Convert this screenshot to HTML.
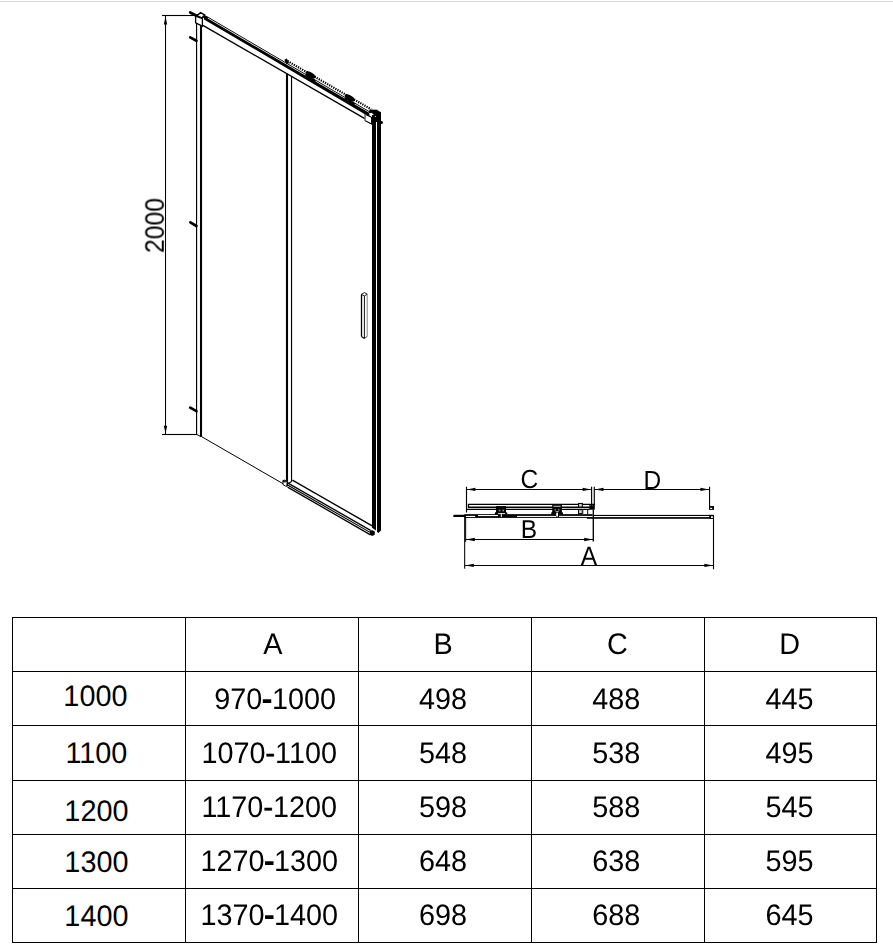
<!DOCTYPE html>
<html><head><meta charset="utf-8"><title>2000</title>
<style>
html,body{margin:0;padding:0;background:#fff;}
body{width:893px;height:948px;overflow:hidden;position:relative;}
svg{position:absolute;left:0;top:0;display:block;}
text{font-family:"Liberation Sans",sans-serif;fill:#000;text-rendering:geometricPrecision;}
.t{font-size:28.8px;}
</style></head><body>
<svg width="893" height="948" viewBox="0 0 893 948">
<g id="door">
<rect x="0" y="1" width="893" height="1" fill="#d9d9d9"/>
<rect x="162" y="14.95" width="34" height="1.1" fill="#000"/>
<rect x="164.98" y="16" width="1.06" height="418" fill="#000"/>
<rect x="162" y="433.95" width="35" height="1.1" fill="#000"/>
<polygon points="165.50,16.40 163.80,24.60 167.20,24.60" fill="#000" stroke="none" stroke-width="1" />
<polygon points="165.50,433.60 163.80,425.80 167.20,425.80" fill="#000" stroke="none" stroke-width="1" />
<line x1="190.20" y1="12.50" x2="196.40" y2="15.80" stroke="#000" stroke-width="2.7" stroke-linecap="round"/>
<line x1="190.20" y1="37.40" x2="196.40" y2="40.80" stroke="#000" stroke-width="2.7" stroke-linecap="round"/>
<line x1="190.40" y1="222.30" x2="196.40" y2="226.00" stroke="#000" stroke-width="2.7" stroke-linecap="round"/>
<line x1="190.20" y1="407.60" x2="196.40" y2="411.20" stroke="#000" stroke-width="2.7" stroke-linecap="round"/>
<rect x="196" y="22" width="1.15" height="412.8" fill="#000"/>
<rect x="199.97" y="25" width="2.08" height="411.8" fill="#000"/>
<line x1="196.70" y1="434.50" x2="201.00" y2="436.60" stroke="#000" stroke-width="1.0" />
<line x1="201.50" y1="436.60" x2="283.70" y2="484.10" stroke="#000" stroke-width="1.0" />
<line x1="202.50" y1="25.20" x2="364.90" y2="118.58" stroke="#000" stroke-width="1.4" />
<polygon points="204.00,16.23 369.50,113.08 369.50,116.88 204.00,19.43" fill="#000" stroke="none" stroke-width="1" />
<line x1="207.50" y1="16.99" x2="370.00" y2="112.08" stroke="#000" stroke-width="0.95" />
<line x1="287.50" y1="61.04" x2="371.00" y2="109.22" stroke="#000" stroke-width="2.2" stroke-dasharray="1.3 1.1"/>
<line x1="285.60" y1="59.14" x2="287.80" y2="63.61" stroke="#000" stroke-width="2.8" />
<ellipse cx="310.6" cy="74.91" rx="5.8" ry="2.5" transform="rotate(30 310.6 74.91)" fill="#000"/>
<line x1="305.60" y1="75.27" x2="315.60" y2="81.14" stroke="#000" stroke-width="1.6" />
<ellipse cx="349.8" cy="97.92" rx="5.8" ry="2.5" transform="rotate(30 349.8 97.92)" fill="#000"/>
<line x1="344.80" y1="98.28" x2="354.80" y2="104.15" stroke="#000" stroke-width="1.6" />
<line x1="203.20" y1="16.20" x2="207.60" y2="18.40" stroke="#000" stroke-width="3.0" />
<polygon points="196.60,15.60 200.70,12.60 204.60,14.90 201.90,17.90" fill="#fff" stroke="#000" stroke-width="1.5" />
<polygon points="195.60,16.10 202.40,18.60 202.40,26.10 195.60,22.80" fill="#fff" stroke="#000" stroke-width="1.3" />
<rect x="285.95" y="73.79" width="2.1" height="412.51" fill="#000"/>
<rect x="290.95" y="76.43" width="1.15" height="405.27" fill="#000"/>
<polygon points="372.00,115.00 376.00,115.00 376.00,530.60 372.00,527.70" fill="#000" stroke="none" stroke-width="1" />
<polygon points="377.00,110.10 381.00,112.20 381.00,530.60 378.30,532.90 377.00,531.50" fill="#000" stroke="none" stroke-width="1" />
<polygon points="369.60,109.50 377.50,109.80 377.50,122.00 372.00,122.00 372.00,114.00 368.80,112.40" fill="#000" stroke="none" stroke-width="1" />
<line x1="380.50" y1="122.60" x2="381.50" y2="122.60" stroke="#000" stroke-width="3.0" stroke-linecap="round"/>
<polygon points="365.10,114.20 371.60,117.30 371.60,124.00 365.10,120.70" fill="#fff" stroke="#000" stroke-width="1.1" />
<line x1="365.10" y1="114.20" x2="365.10" y2="120.60" stroke="#9a9a9a" stroke-width="1.2" />
<polygon points="368.90,113.90 371.30,112.80 373.90,114.40 371.60,115.60" fill="#fff" stroke="none" stroke-width="1" />
<rect x="374.8" y="115.9" width="1" height="0.9" fill="#fff"/>
<polygon points="361.40,294.40 364.40,292.60 367.20,294.20 364.40,296.00" fill="#fff" stroke="#000" stroke-width="0.9" />
<line x1="361.50" y1="294.40" x2="361.50" y2="336.50" stroke="#000" stroke-width="1.3" />
<line x1="364.40" y1="296.00" x2="364.40" y2="338.40" stroke="#111" stroke-width="1.0" />
<line x1="367.20" y1="294.20" x2="367.20" y2="336.50" stroke="#777" stroke-width="0.9" />
<line x1="361.40" y1="336.50" x2="364.40" y2="338.50" stroke="#000" stroke-width="1.1" />
<line x1="364.40" y1="338.50" x2="367.20" y2="336.50" stroke="#444" stroke-width="1.0" />
<line x1="292.40" y1="480.05" x2="372.20" y2="525.94" stroke="#000" stroke-width="1.35" />
<line x1="287.60" y1="482.87" x2="370.50" y2="530.41" stroke="#000" stroke-width="1.3" />
<line x1="287.60" y1="484.97" x2="370.50" y2="532.64" stroke="#000" stroke-width="1.1" />
<line x1="287.60" y1="487.07" x2="370.50" y2="534.86" stroke="#000" stroke-width="1.3" />
<polygon points="369.90,530.60 372.60,530.20 374.80,531.60 374.80,534.80 372.00,535.90 369.90,534.60" fill="#000" stroke="none" stroke-width="1" />
<polygon points="283.00,480.60 284.50,480.10 287.00,481.30 287.00,486.10 285.60,486.10 283.00,484.60" fill="#fff" stroke="#000" stroke-width="1.0" />
<line x1="291.60" y1="481.50" x2="288.20" y2="483.40" stroke="#000" stroke-width="1.2" />
<line x1="283.40" y1="481.00" x2="285.00" y2="481.60" stroke="#000" stroke-width="1.7" stroke-linecap="round"/>
</g>
<g id="plan">
<line x1="466.50" y1="489.45" x2="591.60" y2="489.45" stroke="#000" stroke-width="1.05" />
<polygon points="466.80,489.45 475.40,487.80 475.40,491.10" fill="#000" stroke="none" stroke-width="1" />
<polygon points="591.20,489.45 582.60,487.80 582.60,491.10" fill="#000" stroke="none" stroke-width="1" />
<line x1="466.50" y1="486.80" x2="466.50" y2="512.50" stroke="#000" stroke-width="1.15" />
<line x1="591.60" y1="486.80" x2="591.60" y2="505.00" stroke="#000" stroke-width="1.15" />
<line x1="594.30" y1="486.80" x2="594.30" y2="505.00" stroke="#000" stroke-width="1.15" />
<line x1="594.30" y1="489.45" x2="709.30" y2="489.45" stroke="#000" stroke-width="1.05" />
<polygon points="594.90,489.45 603.50,487.80 603.50,491.10" fill="#000" stroke="none" stroke-width="1" />
<polygon points="709.00,489.45 700.40,487.80 700.40,491.10" fill="#000" stroke="none" stroke-width="1" />
<rect x="709.00" y="486.80" width="1.10" height="22.20" fill="#000" />
<rect x="709.00" y="506.05" width="5.00" height="3.85" fill="#000" />
<rect x="710.10" y="507.80" width="2.10" height="1.20" fill="#fff" />
<line x1="466.00" y1="539.50" x2="593.30" y2="539.50" stroke="#000" stroke-width="1.05" />
<polygon points="466.20,539.50 474.80,537.85 474.80,541.15" fill="#000" stroke="none" stroke-width="1" />
<polygon points="592.80,539.50 584.20,537.85 584.20,541.15" fill="#000" stroke="none" stroke-width="1" />
<line x1="593.30" y1="509.50" x2="593.30" y2="541.50" stroke="#000" stroke-width="1.35" />
<line x1="464.80" y1="565.45" x2="713.60" y2="565.45" stroke="#000" stroke-width="1.05" />
<polygon points="465.20,565.45 473.80,563.80 473.80,567.10" fill="#000" stroke="none" stroke-width="1" />
<polygon points="713.00,565.45 704.40,563.80 704.40,567.10" fill="#000" stroke="none" stroke-width="1" />
<rect x="464.15" y="517.00" width="1.05" height="51.70" fill="#000" />
<rect x="465.15" y="517.00" width="1.00" height="24.90" fill="#000" />
<rect x="712.95" y="518.00" width="1.10" height="51.20" fill="#000" />
<rect x="592.50" y="514.90" width="121.50" height="1.10" fill="#000" />
<rect x="586.90" y="517.10" width="127.10" height="1.70" fill="#000" />
<rect x="709.15" y="514.90" width="4.85" height="3.90" fill="#000" />
<rect x="711.00" y="516.20" width="1.90" height="1.70" fill="#fff" />
<line x1="467.90" y1="504.35" x2="594.50" y2="504.35" stroke="#000" stroke-width="1.25" />
<line x1="468.45" y1="504.30" x2="468.45" y2="507.20" stroke="#000" stroke-width="1.25" />
<line x1="467.90" y1="507.28" x2="589.70" y2="507.28" stroke="#000" stroke-width="1.35" />
<line x1="466.50" y1="509.40" x2="589.70" y2="509.40" stroke="#000" stroke-width="1.25" />
<rect x="464.40" y="514.15" width="128.10" height="3.75" fill="#000" />
<rect x="465.90" y="515.85" width="9.30" height="1.15" fill="#fff" />
<rect x="478.00" y="515.00" width="20.00" height="1.10" fill="#fff" />
<rect x="517.00" y="515.90" width="39.00" height="1.05" fill="#fff" />
<rect x="559.00" y="515.90" width="33.50" height="1.05" fill="#fff" />
<line x1="454.40" y1="515.90" x2="464.40" y2="515.90" stroke="#000" stroke-width="2.4" stroke-linecap="round"/>
<rect x="496.00" y="506.10" width="10.00" height="7.60" fill="#000" />
<rect x="494.90" y="512.30" width="12.30" height="2.10" fill="#000" />
<rect x="498.80" y="509.70" width="1.60" height="1.60" fill="#999" />
<rect x="502.40" y="509.70" width="1.60" height="1.60" fill="#999" />
<rect x="498.00" y="513.10" width="7.20" height="0.80" fill="#fff" />
<rect x="500.80" y="513.10" width="1.00" height="3.90" fill="#fff" />
<rect x="552.20" y="504.70" width="9.70" height="9.40" fill="#000" />
<rect x="551.20" y="512.40" width="11.80" height="2.00" fill="#000" />
<rect x="553.40" y="505.80" width="7.20" height="0.80" fill="#fff" />
<rect x="554.60" y="509.30" width="1.40" height="1.20" fill="#aaa" />
<rect x="558.00" y="509.30" width="1.40" height="1.20" fill="#aaa" />
<rect x="555.60" y="511.20" width="3.00" height="0.80" fill="#ccc" />
<rect x="556.20" y="512.60" width="1.80" height="4.00" fill="#fff" />
<rect x="578.6" y="503.5" width="3.7" height="3.6" fill="#ddd" stroke="#000" stroke-width="1.1"/>
<rect x="578.6" y="509.6" width="3.7" height="4.0" fill="#ddd" stroke="#000" stroke-width="1.1"/>
<line x1="587.70" y1="509.30" x2="587.70" y2="514.50" stroke="#000" stroke-width="1.0" />
<line x1="583.00" y1="509.30" x2="583.00" y2="514.50" stroke="#555" stroke-width="0.8" />
<rect x="589.30" y="504.00" width="5.50" height="5.70" fill="#000" />
<rect x="590.20" y="505.20" width="0.80" height="0.70" fill="#999" />
<rect x="592.20" y="505.20" width="0.80" height="0.70" fill="#999" />
</g>
<g id="labels" opacity="0.999">
<text class="d" transform="translate(163.8,225.5) rotate(-90)" text-anchor="middle" font-size="26.8" textLength="55.0" lengthAdjust="spacingAndGlyphs">2000</text>
<text class="d" transform="translate(529.3,488.1) scale(1,1.07)" text-anchor="middle" font-size="24.5">C</text>
<text class="d" transform="translate(652.3,488.75) scale(1,1.065)" text-anchor="middle" font-size="24.5">D</text>
<text class="d" transform="translate(528.9,538.2) scale(1,1.05)" text-anchor="middle" font-size="24.5">B</text>
<text class="d" transform="translate(588.9,564.9) scale(1,1.08)" text-anchor="middle" font-size="24.5">A</text>
</g>
<g id="table">
<rect x="12" y="617" width="1" height="326" fill="#000"/>
<rect x="185" y="617" width="1" height="326" fill="#000"/>
<rect x="358" y="617" width="1" height="326" fill="#000"/>
<rect x="531" y="617" width="1" height="326" fill="#000"/>
<rect x="704" y="617" width="1" height="326" fill="#000"/>
<rect x="876" y="617" width="1" height="326" fill="#000"/>
<rect x="12" y="617" width="865" height="1" fill="#000"/>
<rect x="12" y="671" width="865" height="1" fill="#000"/>
<rect x="12" y="725" width="865" height="1" fill="#000"/>
<rect x="12" y="780" width="865" height="1" fill="#000"/>
<rect x="12" y="834" width="865" height="1" fill="#000"/>
<rect x="12" y="888" width="865" height="1" fill="#000"/>
<rect x="12" y="942" width="865" height="1" fill="#000"/>
<g id="col0">
<text class="t" transform="translate(95.40,706.00) scale(1,1.03)" text-anchor="middle">1000</text>
<text class="t" transform="translate(96.40,762.50) scale(1,1.03)" text-anchor="middle">1100</text>
<text class="t" transform="translate(96.40,820.80) scale(1,1.03)" text-anchor="middle">1200</text>
<text class="t" transform="translate(96.40,871.50) scale(1,1.03)" text-anchor="middle">1300</text>
<text class="t" transform="translate(96.40,926.40) scale(1,1.03)" text-anchor="middle">1400</text>
</g>
<g id="cells" opacity="0.999">
<text class="t" transform="translate(272.80,653.80) scale(1,1.03)" text-anchor="middle">A</text>
<text class="t" transform="translate(443.10,653.60) scale(1,1.03)" text-anchor="middle">B</text>
<text class="t" transform="translate(617.30,653.60) scale(1,1.03)" text-anchor="middle">C</text>
<text class="t" transform="translate(789.70,653.60) scale(1,1.03)" text-anchor="middle">D</text>
<text class="t" transform="translate(275.15,708.50) scale(1,1.03)" text-anchor="middle">970<tspan stroke="#000" stroke-width="1.4">-</tspan>1000</text>
<text class="t" transform="translate(442.90,708.50) scale(1,1.03)" text-anchor="middle">498</text>
<text class="t" transform="translate(616.30,708.50) scale(1,1.03)" text-anchor="middle">488</text>
<text class="t" transform="translate(789.50,708.50) scale(1,1.03)" text-anchor="middle">445</text>
<text class="t" transform="translate(269.25,762.80) scale(1,1.03)" text-anchor="middle">1070<tspan stroke="#000" stroke-width="0.6">-</tspan>1100</text>
<text class="t" transform="translate(442.90,762.80) scale(1,1.03)" text-anchor="middle">548</text>
<text class="t" transform="translate(616.30,762.80) scale(1,1.03)" text-anchor="middle">538</text>
<text class="t" transform="translate(789.50,762.80) scale(1,1.03)" text-anchor="middle">495</text>
<text class="t" transform="translate(269.25,817.00) scale(1,1.03)" text-anchor="middle">1170<tspan stroke="#000" stroke-width="0.6">-</tspan>1200</text>
<text class="t" transform="translate(442.90,817.00) scale(1,1.03)" text-anchor="middle">598</text>
<text class="t" transform="translate(616.30,817.00) scale(1,1.03)" text-anchor="middle">588</text>
<text class="t" transform="translate(789.50,817.00) scale(1,1.03)" text-anchor="middle">545</text>
<text class="t" transform="translate(269.25,871.20) scale(1,1.03)" text-anchor="middle">1270<tspan stroke="#000" stroke-width="1.4">-</tspan>1300</text>
<text class="t" transform="translate(442.90,871.20) scale(1,1.03)" text-anchor="middle">648</text>
<text class="t" transform="translate(616.30,871.20) scale(1,1.03)" text-anchor="middle">638</text>
<text class="t" transform="translate(789.50,871.20) scale(1,1.03)" text-anchor="middle">595</text>
<text class="t" transform="translate(269.25,925.30) scale(1,1.03)" text-anchor="middle">1370<tspan stroke="#000" stroke-width="1.4">-</tspan>1400</text>
<text class="t" transform="translate(442.90,925.30) scale(1,1.03)" text-anchor="middle">698</text>
<text class="t" transform="translate(616.30,925.30) scale(1,1.03)" text-anchor="middle">688</text>
<text class="t" transform="translate(789.50,925.30) scale(1,1.03)" text-anchor="middle">645</text>
</g>
</g>
</svg>
</body></html>
